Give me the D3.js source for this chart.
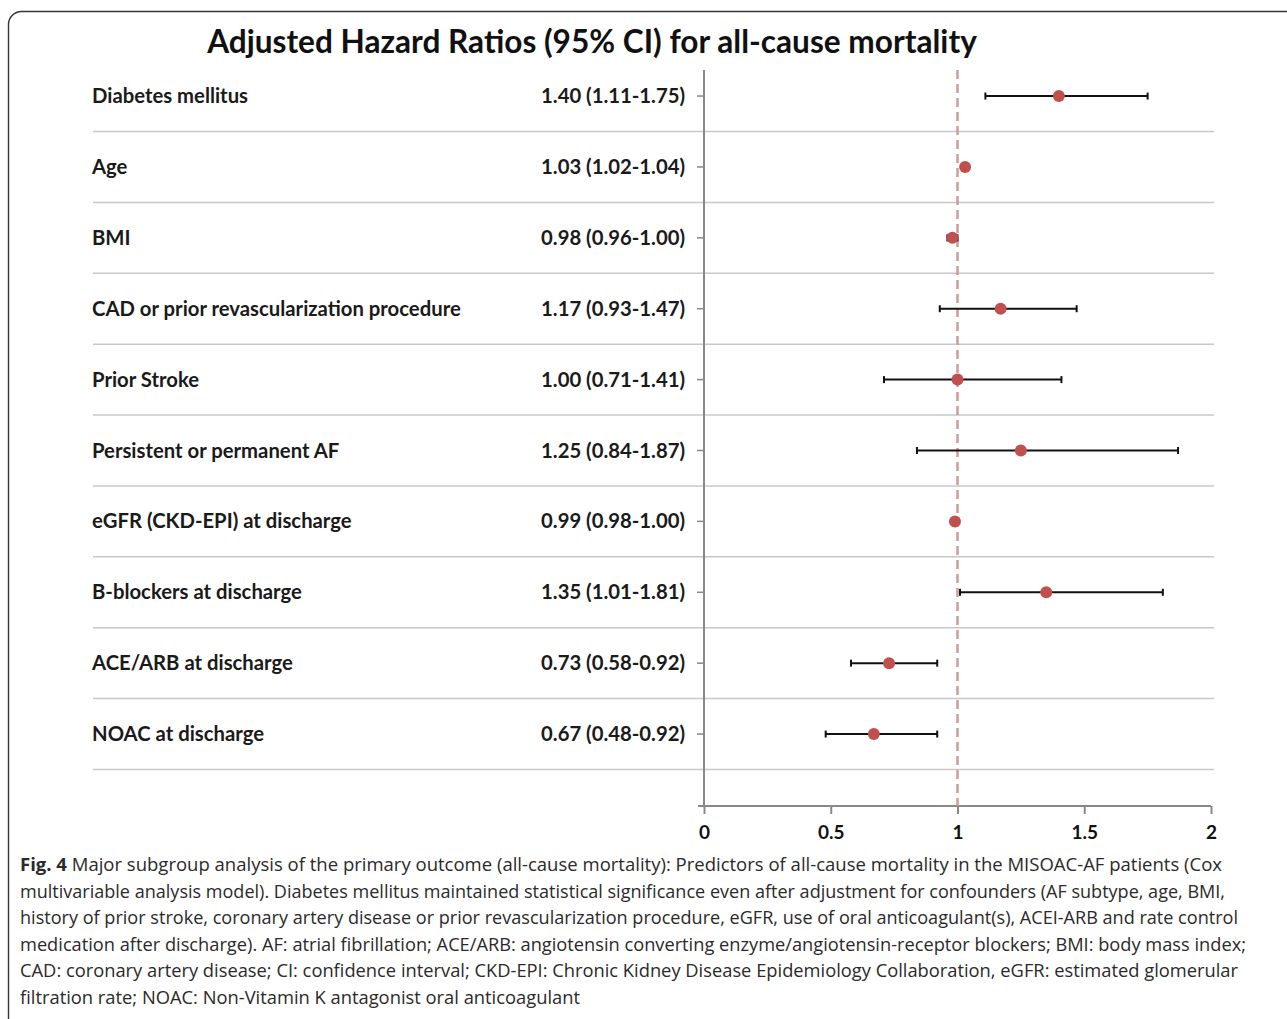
<!DOCTYPE html>
<html>
<head>
<meta charset="utf-8">
<script src="https://cdn.jsdelivr.net/npm/d3@7"></script>
<style>
  body { margin: 0; background: #fff; }
  svg { display: block; }
  .lbl { font-family: Lato, "Open Sans", sans-serif; font-weight: 700; font-size: 20.3px; fill: #1a1a1a; }
  .cap { font-family: "Open Sans", sans-serif; font-size: 17.5px; fill: #2a2a2a; }
</style>
</head>
<body>
<div id="chart"></div>
<script>
// Data
////////////////////////////////////////////////////////////////////
const factors = [
  "Diabetes mellitus",
  "Age",
  "BMI",
  "CAD or prior revascularization procedure",
  "Prior Stroke",
  "Persistent or permanent AF",
  "eGFR (CKD-EPI) at discharge",
  "B-blockers at discharge",
  "ACE/ARB at discharge",
  "NOAC at discharge",
];
const hr = [1.40, 1.03, 0.98, 1.17, 1.00, 1.25, 0.99, 1.35, 0.73, 0.67];
const ciLow = [1.11, 1.02, 0.96, 0.93, 0.71, 0.84, 0.98, 1.01, 0.58, 0.48];
const ciHigh = [1.75, 1.04, 1.00, 1.47, 1.41, 1.87, 1.00, 1.81, 0.92, 0.92];
const xTicks = [0, 0.5, 1, 1.5, 2];

const title = "Adjusted Hazard Ratios (95% CI) for all-cause mortality";
const captionLines = [
  "Major subgroup analysis of the primary outcome (all-cause mortality): Predictors of all-cause mortality in the MISOAC-AF patients (Cox",
  "multivariable analysis model). Diabetes mellitus maintained statistical significance even after adjustment for confounders (AF subtype, age, BMI,",
  "history of prior stroke, coronary artery disease or prior revascularization procedure, eGFR, use of oral anticoagulant(s), ACEI-ARB and rate control",
  "medication after discharge). AF: atrial fibrillation; ACE/ARB: angiotensin converting enzyme/angiotensin-receptor blockers; BMI: body mass index;",
  "CAD: coronary artery disease; CI: confidence interval; CKD-EPI: Chronic Kidney Disease Epidemiology Collaboration, eGFR: estimated glomerular",
  "filtration rate; NOAC: Non-Vitamin K antagonist oral anticoagulant",
];
const captionEnds = [1222, 1225, 1238, 1246, 1238, 580];

const rows = factors.map((f, i) => ({
  name: f,
  hr: hr[i],
  lo: ciLow[i],
  hi: ciHigh[i],
}));

// Dimensions
////////////////////////////////////////////////////////////////////
const width = 1287;
const height = 1019;

const svg = d3
  .select("#chart")
  .append("svg")
  .attr("width", width)
  .attr("height", height);

// outer frame (runs off the right and bottom edge)
svg
  .append("rect")
  .attr("x", 8.5)
  .attr("y", 11.5)
  .attr("width", 1300)
  .attr("height", 1030)
  .attr("rx", 13)
  .attr("fill", "none")
  .attr("stroke", "#333")
  .attr("stroke-width", 1.4);

// Scales
////////////////////////////////////////////////////////////////////
const xScale = d3.scaleLinear().domain([0, 2]).range([704, 1211]);
const yScale = d3
  .scaleBand()
  .domain(factors)
  .range([60.6, 769.5])
  .padding(0);
const yMid = (d) => yScale(d) + yScale.bandwidth() / 2;
const axisY = 806;

// Title
svg
  .append("text")
  .attr("x", 592)
  .attr("y", 53)
  .attr("text-anchor", "middle")
  .attr("font-family", "Lato, 'Open Sans', sans-serif")
  .attr("font-weight", 700)
  .attr("font-size", 31.6)
  .attr("fill", "#111")
  .text(title);

// Grid lines below each row
svg
  .append("g")
  .selectAll("line")
  .data(factors)
  .join("line")
  .attr("x1", 93)
  .attr("x2", 1214)
  .attr("y1", (d) => yScale(d) + yScale.bandwidth())
  .attr("y2", (d) => yScale(d) + yScale.bandwidth())
  .attr("stroke", "#c8c8c8")
  .attr("stroke-width", 1.5);

// Row labels and HR text
svg
  .append("g")
  .selectAll("text")
  .data(rows)
  .join("text")
  .attr("class", "lbl")
  .attr("x", 92)
  .attr("y", (d) => yMid(d.name))
  .attr("dy", "0.35em")
  .text((d) => d.name);

const fmt = d3.format(".2f");
svg
  .append("g")
  .selectAll("text")
  .data(rows)
  .join("text")
  .attr("class", "lbl")
  .attr("x", 685)
  .attr("y", (d) => yMid(d.name))
  .attr("dy", "0.35em")
  .attr("text-anchor", "end")
  .text((d) => `${fmt(d.hr)} (${fmt(d.lo)}-${fmt(d.hi)})`);

// Axes
////////////////////////////////////////////////////////////////////
const yAxis = d3.axisLeft(yScale).tickSize(7).tickFormat("");
const yAxisGroup = svg
  .append("g")
  .attr("transform", "translate(704,0)")
  .call(yAxis);
yAxisGroup.select(".domain").remove();
yAxisGroup.selectAll(".tick line").attr("stroke", "#888").attr("stroke-width", 1.5);
svg
  .append("line")
  .attr("x1", 704)
  .attr("x2", 704)
  .attr("y1", 70)
  .attr("y2", axisY)
  .attr("stroke", "#888")
  .attr("stroke-width", 2);

const xAxis = d3
  .axisBottom(xScale)
  .tickValues(xTicks)
  .tickSize(8)
  .tickSizeOuter(0)
  .tickPadding(12)
  .tickFormat((d) => d);
const xAxisGroup = svg
  .append("g")
  .attr("transform", `translate(0,${axisY})`)
  .call(xAxis);
xAxisGroup.select(".domain").attr("stroke", "#888").attr("stroke-width", 2).attr("d", "M698,0H1211");
xAxisGroup.selectAll(".tick line").attr("stroke", "#888").attr("stroke-width", 2);
xAxisGroup
  .selectAll(".tick text")
  .attr("font-family", "Lato, 'Open Sans', sans-serif")
  .attr("font-weight", 700)
  .attr("font-size", 19)
  .attr("fill", "#111");

// Reference line at HR = 1
svg
  .append("line")
  .attr("x1", xScale(1))
  .attr("x2", xScale(1))
  .attr("y1", 70)
  .attr("y2", axisY)
  .attr("stroke", "#d19a9a")
  .attr("stroke-width", 2.5)
  .attr("stroke-dasharray", "9,5");

// Error bars + points
////////////////////////////////////////////////////////////////////
const bars = svg.append("g").selectAll("g").data(rows).join("g");
bars
  .append("line")
  .attr("x1", (d) => xScale(d.lo))
  .attr("x2", (d) => xScale(d.hi))
  .attr("y1", (d) => yMid(d.name))
  .attr("y2", (d) => yMid(d.name))
  .attr("stroke", "#111")
  .attr("stroke-width", 2);
bars
  .selectAll(".cap")
  .data((d) => [d.lo, d.hi].map((v) => ({ v, y: yMid(d.name) })))
  .join("line")
  .attr("x1", (c) => xScale(c.v))
  .attr("x2", (c) => xScale(c.v))
  .attr("y1", (c) => c.y - 3.5)
  .attr("y2", (c) => c.y + 3.5)
  .attr("stroke", "#111")
  .attr("stroke-width", 2);
bars
  .append("circle")
  .attr("cx", (d) => xScale(d.hr))
  .attr("cy", (d) => yMid(d.name))
  .attr("r", 6)
  .attr("fill", "#c0504d");

// Caption
////////////////////////////////////////////////////////////////////
const cap = svg.append("g");
captionLines.forEach((line, i) => {
  const t = cap
    .append("text")
    .attr("class", "cap")
    .attr("x", 20)
    .attr("y", 871 + i * 26.6);
  if (i === 0) {
    t.append("tspan").attr("font-weight", 700).text("Fig. 4");
    t.append("tspan").text("  " + line);
  } else {
    t.text(line);
  }
  t.attr("textLength", captionEnds[i] - 20).attr("lengthAdjust", "spacingAndGlyphs");
});
</script>
</body>
</html>
